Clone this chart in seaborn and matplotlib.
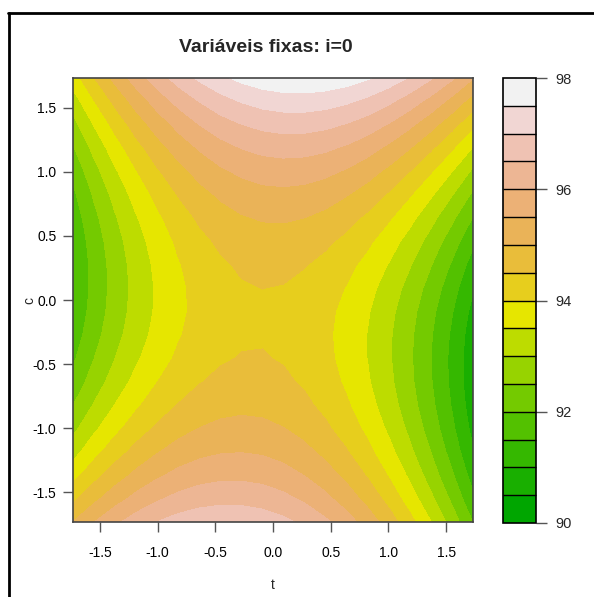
import colorsys

import numpy as np
import matplotlib
matplotlib.use("Agg")
import matplotlib.pyplot as plt
import seaborn as sns
from matplotlib.colors import ListedColormap, BoundaryNorm
from matplotlib.lines import Line2D
from matplotlib.ticker import NullLocator

# Second-order response surface in coded units (i held at 0)
intercept = 94.46
linear = [-0.18, 0.33]        # t, c
quadratic = [-1.07, 0.94]     # t^2, c^2
interaction = 0.40            # t*c

axis_limit = 1.732
grid_points = 20
levels = np.arange(90.0, 98.01, 0.5)
x_ticks = [-1.5, -1.0, -0.5, 0.0, 0.5, 1.0, 1.5]
y_ticks = [-1.5, -1.0, -0.5, 0.0, 0.5, 1.0, 1.5]
bar_ticks = [90, 92, 94, 96, 98]
title = "Variáveis fixas: i=0"
x_label = "t"
y_label = "c"


def terrain_colors(n):
    """Same ramp as R's terrain.colors()."""
    k = n // 2
    h1 = np.linspace(4 / 12, 2 / 12, k)
    s1 = np.linspace(1.0, 1.0, k)
    v1 = np.linspace(0.65, 0.90, k)
    h2 = np.linspace(2 / 12, 0.0, n - k + 1)[1:]
    s2 = np.linspace(1.0, 0.0, n - k + 1)[1:]
    v2 = np.linspace(0.90, 0.95, n - k + 1)[1:]
    hs = np.concatenate([h1, h2])
    ss = np.concatenate([s1, s2])
    vs = np.concatenate([v1, v2])
    return [colorsys.hsv_to_rgb(h, s, v) for h, s, v in zip(hs, ss, vs)]


sns.set_theme(style="white")
plt.rcParams["font.family"] = ["Liberation Sans", "DejaVu Sans"]
plt.rcParams["axes.unicode_minus"] = False

t = np.linspace(-axis_limit, axis_limit, grid_points)
c = np.linspace(-axis_limit, axis_limit, grid_points)
T, C = np.meshgrid(t, c)
Z = (intercept + linear[0] * T + linear[1] * C
     + quadratic[0] * T ** 2 + quadratic[1] * C ** 2
     + interaction * T * C)

cmap = ListedColormap(terrain_colors(len(levels) - 1))
norm = BoundaryNorm(levels, cmap.N)

W, H = 594, 597
fig = plt.figure(figsize=(W / 100, H / 100), dpi=100)
fig.patch.set_facecolor("white")

ax = fig.add_axes([73 / W, 1 - 522 / H, 400 / W, 444 / H])
cs = ax.contourf(T, C, Z, levels=levels, cmap=cmap, norm=norm)
ax.set_xlim(-axis_limit, axis_limit)
ax.set_ylim(-axis_limit, axis_limit)

ax.set_xticks(x_ticks)
ax.set_xticklabels([f"{v:.1f}" for v in x_ticks])
ax.set_yticks(y_ticks)
ax.set_yticklabels([f"{v:.1f}" for v in y_ticks])
ax.tick_params(axis="x", direction="out", length=7, width=1,
               color="#555555", labelsize=10, labelcolor="black", pad=10,
               bottom=True)
ax.tick_params(axis="y", direction="out", length=7, width=1,
               color="#555555", labelsize=10, labelcolor="black", pad=5,
               left=True)
for sp in ax.spines.values():
    sp.set_color("#444444")
    sp.set_linewidth(1.2)
ax.set_xlabel(x_label, fontsize=10)
ax.set_ylabel(y_label, fontsize=10)
ax.xaxis.set_label_coords(0.5, -(578 - 522) / 444)
ax.yaxis.set_label_coords(-(73 - 36) / 400, 0.5)

fig.text(266 / W, 1 - 48 / H, title, ha="center", va="center",
         fontsize=14, fontweight="bold")

cax = fig.add_axes([503 / W, 1 - 523 / H, 33 / W, 445 / H])
cb = fig.colorbar(cs, cax=cax, ticks=bar_ticks, drawedges=True)
cb.outline.set_edgecolor("black")
cb.outline.set_linewidth(1.2)
cb.dividers.set_color("black")
cb.dividers.set_linewidth(1.0)
cb.ax.yaxis.set_minor_locator(NullLocator())
cb.ax.set_yticklabels([str(v) for v in bar_ticks])
cb.ax.tick_params(axis="y", which="major", direction="out", length=8,
                  width=1, color="#555555", labelsize=10.5, pad=6, right=True)

# outer frame (top and left edges fall inside the image)
fig.add_artist(Line2D([8 / W, 1.0], [1 - 13 / H, 1 - 13 / H],
                      transform=fig.transFigure, color="black", lw=2))
fig.add_artist(Line2D([9 / W, 9 / W], [1 - 13 / H, 0.0],
                      transform=fig.transFigure, color="black", lw=2))

fig.savefig("out.png", dpi=100)
